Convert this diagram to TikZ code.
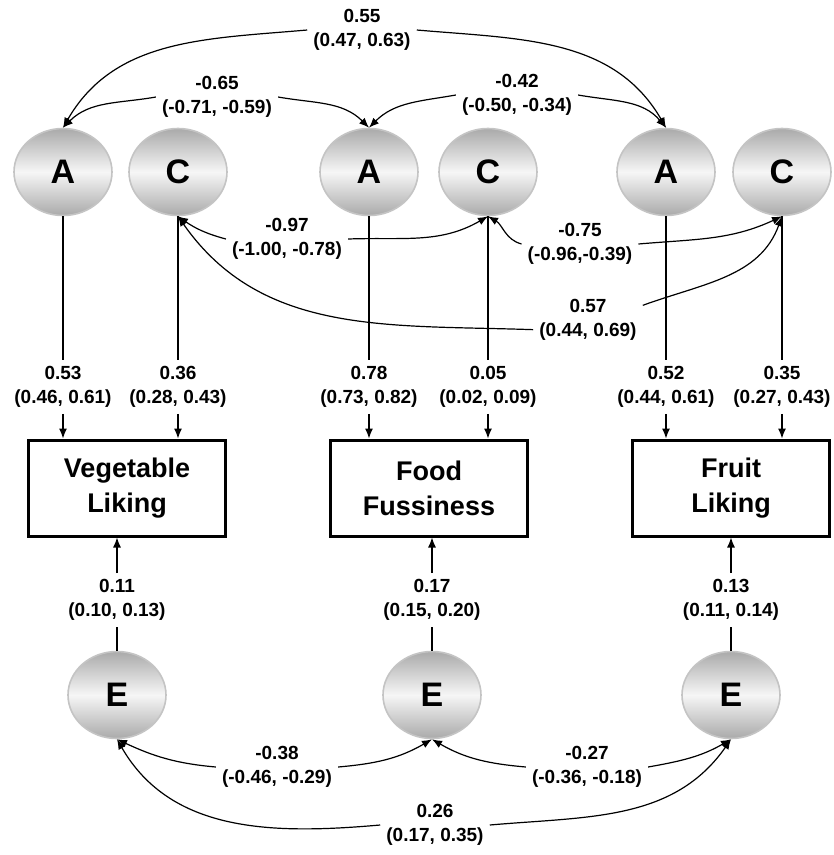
\documentclass[tikz,border=0pt]{standalone}
\usepackage{fontspec}
\setmainfont{Liberation Sans}
\usetikzlibrary{shapes.geometric,arrows.meta}
\definecolor{ringgray}{RGB}{196,196,196}
\definecolor{shadetop}{RGB}{170,170,170}
\definecolor{shademid}{RGB}{246,246,246}
\begin{document}
\begin{tikzpicture}[x=1pt,y=1pt,
	latent/.style={ellipse,draw=ringgray,line width=1.6pt,minimum width=98pt,minimum height=87pt,top color=shadetop,bottom color=shadetop,middle color=shademid,font=\fontsize{34}{34}\selectfont\bfseries},
	obs/.style={draw,line width=3pt,minimum width=197pt,minimum height=96pt,align=center,font=\fontsize{27}{35}\selectfont\bfseries},
	est/.style={align=center,inner sep=6pt,font=\fontsize{19}{24}\selectfont\bfseries},
	arr/.style={line width=1.2pt,-{Latex[length=10pt,width=8pt]}},
	lin/.style={line width=1.2pt}]
	\useasboundingbox (0,0) rectangle (834,-855);
	\node [latent] (A1) at (63,-172) {A};
	\node [latent] (C1) at (178,-172) {C};
	\node [latent] (A2) at (369,-172) {A};
	\node [latent] (C2) at (488,-172) {C};
	\node [latent] (A3) at (666,-172) {A};
	\node [latent] (C3) at (782,-172) {C};
	\node [latent] (E1) at (117,-695) {E};
	\node [latent] (E2) at (432,-695) {E};
	\node [latent] (E3) at (731,-695) {E};
	\node [obs] (veg) at (127,-488) {Vegetable\\Liking};
	\node [obs] (fuss) at (429,-488) {Food\\Fussiness};
	\node [obs] (fruit) at (731,-488) {Fruit\\Liking};
	\node [est] (l53) at (63,-387) {0.53\\(0.46, 0.61)};
	\node [est] (l36) at (178,-387) {0.36\\(0.28, 0.43)};
	\node [est] (l78) at (369,-387) {0.78\\(0.73, 0.82)};
	\node [est] (l05) at (488,-387) {0.05\\(0.02, 0.09)};
	\node [est] (l52) at (666,-387) {0.52\\(0.44, 0.61)};
	\node [est] (l35) at (782,-387) {0.35\\(0.27, 0.43)};
	\node [est] (e11) at (117,-600) {0.11\\(0.10, 0.13)};
	\node [est] (e17) at (432,-600) {0.17\\(0.15, 0.20)};
	\node [est] (e13) at (731,-600) {0.13\\(0.11, 0.14)};
	\node [est] (t55) at (362,-30) {0.55\\(0.47, 0.63)};
	\node [est] (t65) at (217,-97) {-0.65\\(-0.71, -0.59)};
	\node [est] (t42) at (517,-95) {-0.42\\(-0.50, -0.34)};
	\node [est] (t97) at (287,-239) {-0.97\\(-1.00, -0.78)};
	\node [est] (t75) at (580,-244) {-0.75\\(-0.96,-0.39)};
	\node [est] (t57) at (588,-320) {0.57\\(0.44, 0.69)};
	\node [est] (b38) at (277,-767) {-0.38\\(-0.46, -0.29)};
	\node [est] (b27) at (587,-767) {-0.27\\(-0.36, -0.18)};
	\node [est] (b26) at (435,-825) {0.26\\(0.17, 0.35)};
	\draw [lin] (A1) -- (l53);
	\draw [lin] (C1) -- (l36);
	\draw [lin] (A2) -- (l78);
	\draw [lin] (C2) -- (l05);
	\draw [lin] (A3) -- (l52);
	\draw [lin] (C3) -- (l35);
	\draw [arr] (l53) -- (l53 |- veg.north);
	\draw [arr] (l36) -- (l36 |- veg.north);
	\draw [arr] (l78) -- (l78 |- fuss.north);
	\draw [arr] (l05) -- (l05 |- fuss.north);
	\draw [arr] (l52) -- (l52 |- fruit.north);
	\draw [arr] (l35) -- (l35 |- fruit.north);
	\draw [lin] (E1) -- (e11);
	\draw [lin] (E2) -- (e17);
	\draw [lin] (E3) -- (e13);
	\draw [arr] (e11) -- (e11 |- veg.south);
	\draw [arr] (e17) -- (e17 |- fuss.south);
	\draw [arr] (e13) -- (e13 |- fruit.south);
	\draw [arr] (t55.west) to[out=185,in=60] (A1.north);
	\draw [arr] (t55.east) to[out=-5,in=120] (A3.north);
	\draw [arr] (t65.west) to[out=190,in=45] (A1.north);
	\draw [arr] (t65.east) to[out=-10,in=135] (A2.north);
	\draw [arr] (t42.west) to[out=190,in=45] (A2.north);
	\draw [arr] (t42.east) to[out=-10,in=130] (A3.north);
	\draw [arr] (t97.west) to[out=165,in=-35] (C1.south);
	\draw [arr] (t97.east) to[out=2,in=-150] (C2.south);
	\draw [arr] (t75.west) to[out=165,in=-30] (C2.south);
	\draw [arr] (t75.east) to[out=5,in=-155] (C3.south);
	\draw [arr] (t57.190) to[out=178,in=-55] (C1.south);
	\draw [arr] (t57.15) to[out=20,in=-110] (C3.south);
	\draw [arr] (b38.west) to[out=175,in=-25] (E1.south);
	\draw [arr] (b38.east) to[out=5,in=-150] (E2.south);
	\draw [arr] (b27.west) to[out=175,in=-30] (E2.south);
	\draw [arr] (b27.east) to[out=10,in=-150] (E3.south);
	\draw [arr] (b26.west) to[out=185,in=-60] (E1.south);
	\draw [arr] (b26.east) to[out=5,in=-125] (E3.south);
\end{tikzpicture}
\end{document}
